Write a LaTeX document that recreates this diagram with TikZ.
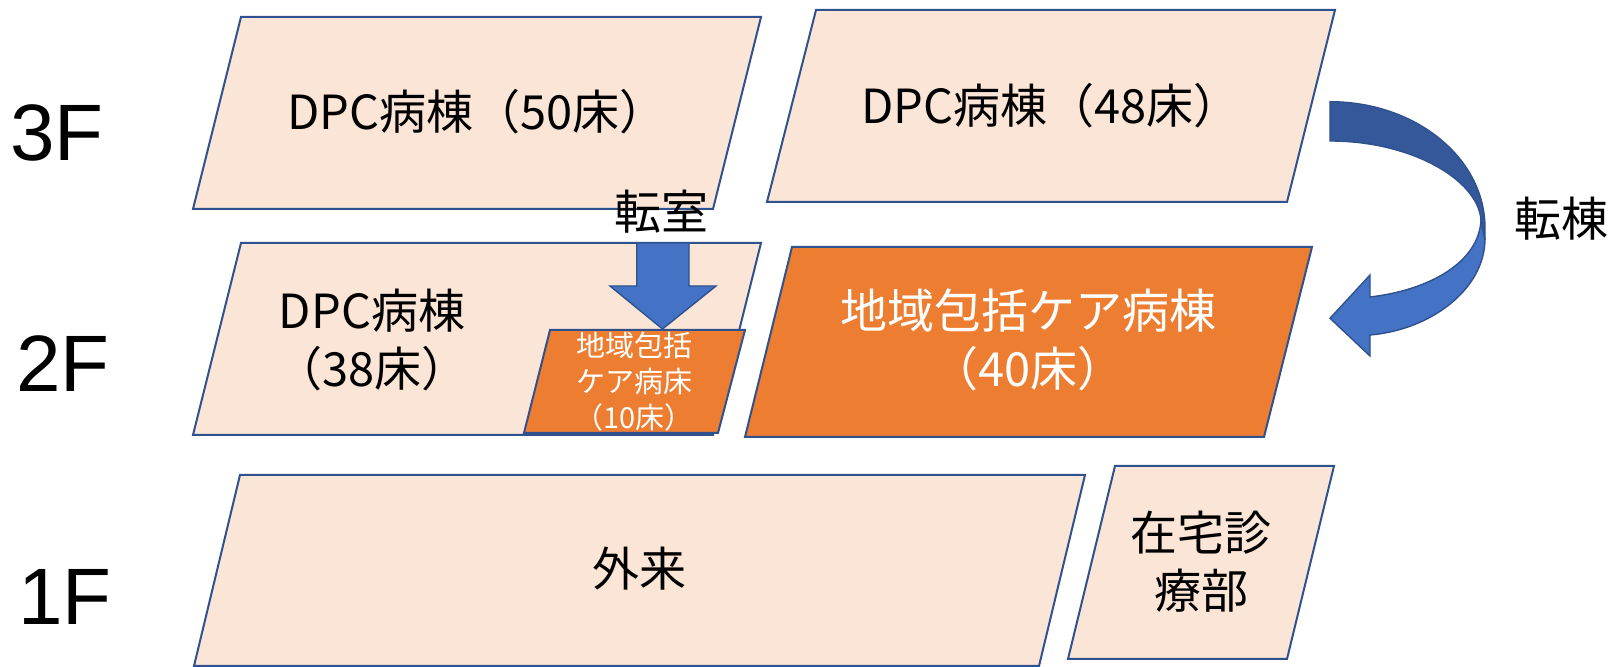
\documentclass[tikz,border=0pt]{standalone}
\usepackage{fontspec}
\newfontfamily\jp{Noto Sans CJK JP}
\newfontfamily\arialf{Liberation Sans}
\definecolor{peach}{HTML}{FBE5D6}
\definecolor{edgeblue}{HTML}{2F528F}
\definecolor{orng}{HTML}{ED7D31}
\definecolor{accblue}{HTML}{4472C4}
\definecolor{darkblue}{HTML}{34589A}
\begin{document}
\begin{tikzpicture}[x=0.5pt,y=-0.5pt,
  box/.style={draw=edgeblue, line width=1pt, fill=peach},
  obox/.style={draw=edgeblue, line width=1pt, fill=orng},
  barrow/.style={draw=edgeblue, line width=0.7pt, fill=accblue},
  darrow/.style={draw=edgeblue, line width=0.7pt, fill=darkblue},
  lbl/.style={font=\jp\fontsize{23.5}{29}\selectfont, align=center, inner sep=0pt, text=black},
  wlbl/.style={lbl, text=white},
  slbl/.style={font=\jp\fontsize{14.5}{17.85}\selectfont, align=center, inner sep=0pt, text=white},
  floor/.style={font=\arialf\fontsize{40}{44}\selectfont, inner sep=0pt, anchor=base west}
]
\useasboundingbox (0,0) rectangle (1624,667);
% floor labels
\node[floor] (f3) at (10,160.5) {3F};
\node[floor] (f2) at (16,392) {2F};
\node[floor] (f1) at (18,624.5) {1F};
% 3F
\draw[box] (241,17) -- (761,17) -- (713,209) -- (193,209) -- cycle;
\node[lbl] (d50) at (477,112) {DPC病棟（50床）};
\draw[box] (816,10) -- (1335,10) -- (1287,202) -- (767,202) -- cycle;
\node[lbl] (d48) at (1051,106) {DPC病棟（48床）};
% 2F
\draw[box] (241,243) -- (761,243) -- (713,435) -- (193,435) -- cycle;
\node[lbl] (d38) at (372,340) {DPC病棟\\（38床）};
\draw[obox] (550,330) -- (745,330) -- (718,433) -- (524,433) -- cycle;
\node[slbl] (c10) at (634,381.5) {地域包括\\ケア病床\\（10床）};
\draw[obox] (792,247) -- (1312,247) -- (1264,437) -- (745,437) -- cycle;
\node[wlbl] (c40) at (1028,340) {地域包括ケア病棟\\（40床）};
% 1F
\draw[box] (240,475) -- (1085,475) -- (1039,666) -- (194,666) -- cycle;
\node[lbl] (gai) at (639,569) {外来};
\draw[box] (1115,466) -- (1334,466) -- (1287,659) -- (1068,659) -- cycle;
\node[lbl] (zai) at (1201,562) {在宅診\\療部};
% transfer arrows
\draw[barrow] (636.7,243) -- (689,243) -- (689,286) -- (716,286) -- (662.5,329) -- (610,286) -- (636.7,286) -- cycle;
\node[lbl] (tenshitsu) at (661,212) {転室};
\draw[barrow] (1485,240) .. controls (1484,290) and (1430,330) .. (1370,335) -- (1370,356) -- (1330,318.3) -- (1370,275) -- (1370,297) .. controls (1430,290) and (1479,262) .. (1481,220) -- cycle;
\draw[darrow] (1330,101.7) .. controls (1415.6,101.7) and (1485,158) .. (1485,228) -- (1485,240) -- (1481,220) .. controls (1478,180) and (1412,141) .. (1330,141) -- cycle;
\node[lbl] (tentou) at (1561,219) {転棟};
\end{tikzpicture}
\end{document}
